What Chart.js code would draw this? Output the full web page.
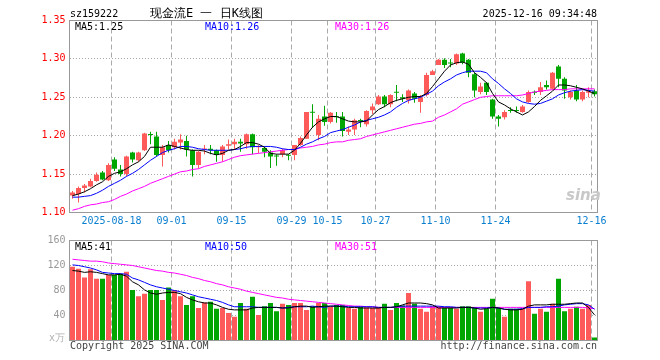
<!DOCTYPE html>
<html>
<head>
<meta charset="utf-8">
<script src="https://cdn.jsdelivr.net/npm/chart.js@4.4.0/dist/chart.umd.min.js"></script>
<style>
  html, body { margin: 0; padding: 0; background: #fff; }
  #wrap { position: relative; width: 660px; height: 360px; overflow: hidden;
          font-family: "DejaVu Sans Mono", monospace; font-size: 10px; }
  #wrap canvas { position: absolute; left: 0; }
  .t { position: absolute; white-space: pre; line-height: 12px; }
</style>
</head>
<body>
<div id="wrap">
  <canvas id="kline" width="660" height="235" style="top:0"></canvas>
  <canvas id="vol" width="660" height="130" style="top:230px"></canvas>

  <div class="t" style="left:70px;top:8px;color:#000">sz159222</div>
  <div class="t" style="left:150px;top:6px;font-size:12px;line-height:14px;color:#000">现金流E 一 日K线图</div>
  <div class="t" style="right:63px;top:8px;color:#000">2025-12-16 09:34:48</div>

  <div class="t" style="left:75px;top:21px;color:#000">MA5:1.25</div>
  <div class="t" style="left:205px;top:21px;color:#0000ff">MA10:1.26</div>
  <div class="t" style="left:335px;top:21px;color:#ff00ff">MA30:1.26</div>

  <div class="t" style="left:75px;top:241px;color:#000">MA5:41</div>
  <div class="t" style="left:205px;top:241px;color:#0000ff">MA10:50</div>
  <div class="t" style="left:335px;top:241px;color:#ff00ff">MA30:51</div>

  <div class="t" style="left:49px;top:332px;color:#b0b0b0">x万</div>
  <div class="t" style="left:70px;top:340px;color:#444">Copyright 2025 SINA.COM</div>
  <div class="t" style="right:63px;top:340px;color:#444">http://finance.sina.com.cn</div>
  <div class="t" style="left:566px;top:186px;font:italic bold 15px 'DejaVu Sans';color:#c8c8c8">sina</div>
</div>

<script>
// trading days shown on the chart
const dates = [
  '2025-08-07','2025-08-08','2025-08-11','2025-08-12','2025-08-13','2025-08-14','2025-08-15',
  '2025-08-18','2025-08-19','2025-08-20','2025-08-21','2025-08-22',
  '2025-08-25','2025-08-26','2025-08-27','2025-08-28','2025-08-29',
  '2025-09-01','2025-09-02','2025-09-03','2025-09-04','2025-09-05',
  '2025-09-08','2025-09-09','2025-09-10','2025-09-11','2025-09-12',
  '2025-09-15','2025-09-16','2025-09-17','2025-09-18','2025-09-19',
  '2025-09-22','2025-09-23','2025-09-24','2025-09-25','2025-09-26',
  '2025-09-29','2025-09-30','2025-10-09','2025-10-10',
  '2025-10-13','2025-10-14','2025-10-15','2025-10-16','2025-10-17',
  '2025-10-20','2025-10-21','2025-10-22','2025-10-23','2025-10-24',
  '2025-10-27','2025-10-28','2025-10-29','2025-10-30','2025-10-31',
  '2025-11-03','2025-11-04','2025-11-05','2025-11-06','2025-11-07',
  '2025-11-10','2025-11-11','2025-11-12','2025-11-13','2025-11-14',
  '2025-11-17','2025-11-18','2025-11-19','2025-11-20','2025-11-21',
  '2025-11-24','2025-11-25','2025-11-26','2025-11-27','2025-11-28',
  '2025-12-01','2025-12-02','2025-12-03','2025-12-04','2025-12-05',
  '2025-12-08','2025-12-09','2025-12-10','2025-12-11','2025-12-12',
  '2025-12-15','2025-12-16'
];

// labelled dates on the x axis
const tickDates = ['2025-08-18','2025-09-01','2025-09-15','2025-09-29','2025-10-15','2025-10-27','2025-11-10','2025-11-24','2025-12-16'];
const tickTexts = ['2025-08-18','09-01','09-15','09-29','10-15','10-27','11-10','11-24','12-16'];

const open = [
  1.122,1.124,1.132,1.134,1.141,1.152,1.142,1.169,1.156,1.150,
  1.178,1.168,1.181,1.202,1.199,1.175,1.188,1.185,1.191,1.193,
  1.181,1.162,1.182,1.183,1.181,1.175,1.187,1.189,1.192,1.189,
  1.202,1.185,1.184,1.178,1.174,1.176,1.175,1.175,1.188,1.196,
  1.231,1.201,1.225,1.218,1.225,1.225,1.205,1.208,1.220,1.215,
  1.233,1.241,1.251,1.241,1.257,1.250,1.246,1.255,1.244,1.253,
  1.279,1.292,1.299,1.295,1.294,1.307,1.299,1.280,1.257,1.269,
  1.247,1.225,1.224,1.233,1.233,1.231,1.244,1.257,1.257,1.266,
  1.261,1.290,1.274,1.250,1.259,1.247,1.256,1.258
];
const close = [
  1.126,1.132,1.135,1.141,1.149,1.143,1.162,1.157,1.150,1.173,
  1.169,1.178,1.203,1.201,1.175,1.185,1.181,1.192,1.195,1.182,
  1.162,1.179,1.183,1.181,1.175,1.186,1.189,1.192,1.190,1.202,
  1.185,1.186,1.179,1.173,1.173,1.181,1.174,1.188,1.197,1.231,
  1.230,1.222,1.218,1.230,1.224,1.206,1.208,1.220,1.219,1.232,
  1.238,1.251,1.241,1.253,1.256,1.248,1.259,1.248,1.250,1.279,
  1.284,1.299,1.292,1.294,1.306,1.295,1.282,1.259,1.264,1.257,
  1.225,1.222,1.231,1.232,1.232,1.238,1.257,1.256,1.263,1.263,
  1.282,1.274,1.259,1.257,1.247,1.257,1.258,1.254
];
const high = [
  1.128,1.134,1.137,1.144,1.152,1.154,1.164,1.172,1.162,1.174,
  1.179,1.179,1.204,1.205,1.205,1.188,1.193,1.196,1.202,1.200,
  1.182,1.180,1.188,1.188,1.182,1.188,1.195,1.196,1.196,1.203,
  1.203,1.188,1.186,1.181,1.176,1.183,1.176,1.188,1.199,1.231,
  1.241,1.227,1.239,1.231,1.231,1.231,1.212,1.222,1.222,1.233,
  1.242,1.253,1.253,1.254,1.266,1.254,1.260,1.257,1.253,1.282,
  1.286,1.300,1.301,1.300,1.307,1.308,1.300,1.282,1.269,1.270,
  1.248,1.227,1.233,1.237,1.238,1.240,1.259,1.259,1.270,1.272,
  1.283,1.292,1.276,1.259,1.266,1.259,1.263,1.260
];
const low = [
  1.118,1.113,1.126,1.133,1.140,1.142,1.141,1.154,1.147,1.147,
  1.165,1.166,1.180,1.189,1.173,1.160,1.178,1.182,1.182,1.173,
  1.147,1.157,1.176,1.176,1.166,1.166,1.182,1.182,1.179,1.183,
  1.176,1.177,1.172,1.158,1.161,1.172,1.168,1.168,1.187,1.196,
  1.210,1.194,1.213,1.216,1.217,1.199,1.201,1.201,1.211,1.212,
  1.228,1.240,1.237,1.237,1.245,1.244,1.242,1.243,1.230,1.251,
  1.279,1.292,1.288,1.289,1.292,1.293,1.276,1.250,1.254,1.253,
  1.222,1.212,1.221,1.230,1.230,1.230,1.243,1.253,1.253,1.260,
  1.260,1.263,1.248,1.247,1.245,1.245,1.250,1.251
];
const ma5 = [
  1.122,1.124,1.127,1.131,1.136,1.140,1.147,1.151,1.153,1.157,
  1.162,1.166,1.173,1.185,1.185,1.185,1.188,1.186,1.184,1.182,
  1.181,1.181,1.180,1.177,1.175,1.177,1.181,1.182,1.186,1.191,
  1.191,1.189,1.185,1.177,1.176,1.176,1.176,1.181,1.190,1.201,
  1.211,1.218,1.222,1.225,1.225,1.222,1.219,1.218,1.218,1.219,
  1.227,1.234,1.238,1.243,1.246,1.248,1.250,1.251,1.251,1.255,
  1.264,1.274,1.284,1.292,1.295,1.296,1.293,1.282,1.276,1.269,
  1.255,1.244,1.240,1.235,1.231,1.227,1.231,1.238,1.246,1.252,
  1.258,1.266,1.266,1.265,1.263,1.261,1.258,1.255
];
const ma10 = [
  1.120,1.120,1.121,1.122,1.125,1.129,1.134,1.138,1.142,1.147,
  1.151,1.156,1.162,1.168,1.173,1.178,1.181,1.183,1.186,1.186,
  1.185,1.183,1.182,1.181,1.181,1.181,1.181,1.182,1.183,1.185,
  1.186,1.186,1.186,1.186,1.185,1.183,1.182,1.182,1.185,1.189,
  1.192,1.196,1.199,1.204,1.206,1.208,1.211,1.214,1.218,1.220,
  1.222,1.224,1.227,1.231,1.237,1.242,1.246,1.248,1.250,1.254,
  1.258,1.265,1.270,1.274,1.279,1.282,1.284,1.284,1.284,1.282,
  1.274,1.268,1.261,1.255,1.248,1.244,1.242,1.241,1.242,1.245,
  1.248,1.253,1.256,1.258,1.259,1.260,1.259,1.258
];
const ma30 = [
  1.103,1.105,1.108,1.110,1.111,1.113,1.114,1.117,1.121,1.124,
  1.128,1.131,1.134,1.138,1.141,1.144,1.147,1.150,1.153,1.154,
  1.156,1.157,1.160,1.162,1.164,1.166,1.169,1.172,1.174,1.175,
  1.176,1.177,1.178,1.179,1.180,1.181,1.182,1.182,1.184,1.185,
  1.186,1.188,1.189,1.191,1.192,1.192,1.194,1.195,1.196,1.199,
  1.201,1.203,1.205,1.207,1.209,1.211,1.213,1.215,1.216,1.218,
  1.219,1.224,1.227,1.231,1.235,1.241,1.244,1.247,1.250,1.251,
  1.252,1.252,1.252,1.252,1.252,1.253,1.255,1.257,1.258,1.259,
  1.260,1.260,1.260,1.261,1.261,1.261,1.261,1.261
];

// volume in 万
const volume = [
  118,115,101,114,99,99,105,105,107,110,
  81,71,75,81,81,65,85,81,71,57,
  71,52,61,62,51,52,44,38,60,51,
  70,41,55,60,47,59,57,60,60,49,
  55,60,60,54,57,57,52,51,54,53,
  52,53,59,49,60,56,76,59,51,46,
  55,55,53,53,51,55,55,53,46,51,
  67,53,38,51,51,51,95,43,51,46,
  59,99,47,51,54,51,57,5
];
const vma5 = [
  112,111,109,110,109,107,105,105,106,103,
  94,89,81,76,74,76,77,77,75,69,
  65,62,60,60,57,53,50,49,49,49,
  52,53,53,53,53,52,52,54,55,55,
  53,54,55,55,55,54,53,53,52,52,
  52,52,53,53,54,57,60,60,60,59,
  57,52,52,52,52,53,53,52,50,51,
  53,52,50,49,49,50,55,57,57,57,
  58,58,58,59,60,60,53,41
];
const vma10 = [
  121,120,118,116,113,109,108,107,107,106,
  100,97,93,89,86,84,82,80,78,76,
  73,70,68,66,64,61,57,54,54,54,
  54,53,53,53,53,52,53,54,54,54,
  55,54,53,55,55,55,54,54,54,54,
  54,53,53,53,54,55,55,55,55,55,
  55,55,54,54,53,53,53,52,52,52,
  53,52,50,50,50,51,53,53,53,54,
  54,55,57,58,59,59,57,50
];
const vma30 = [
  130,129,128,127,127,126,124,123,122,121,
  120,118,116,114,112,111,109,108,106,104,
  101,99,96,94,91,89,86,84,82,79,
  77,75,73,71,69,68,66,65,64,63,
  62,61,60,59,58,57,56,55,55,54,
  54,53,53,53,53,53,53,53,53,53,
  53,53,53,53,53,53,53,53,53,53,
  53,53,53,53,53,53,53,53,53,53,
  53,53,53,53,53,53,52,51
];

const RED = '#ff5a5a';
const GREEN = '#00a600';
const GRID = '#aaaaaa';
const candleColor = close.map((c, i) => (c >= open[i] ? RED : GREEN));

Chart.defaults.font.family = '"DejaVu Sans Mono", monospace';
Chart.defaults.font.size = 10;
Chart.defaults.animation = false;

// grey box round the plot area
const frame = {
  id: 'frame',
  afterDraw(chart) {
    const { ctx, chartArea: a } = chart;
    ctx.save();
    ctx.strokeStyle = '#999';
    ctx.lineWidth = 1;
    ctx.strokeRect(a.left, a.top, a.right - a.left, a.bottom - a.top);
    ctx.restore();
  }
};

function xScale(showLabels, height) {
  return {
    type: 'category',
    offset: true,
    afterFit: s => { s.height = height; },
    grid: {
      offset: true,
      drawTicks: false,
      color: c => (tickDates.includes(dates[c.index]) ? GRID : 'transparent')
    },
    border: { display: false, dash: [5, 3] },
    ticks: {
      display: showLabels,
      autoSkip: false,
      maxRotation: 0,
      padding: 3,
      labelOffset: -3,
      color: '#0a7fd0',
      callback: (v, i) => {
        const k = tickDates.indexOf(dates[i]);
        return k < 0 ? '' : tickTexts[k];
      }
    }
  };
}

function line(data, color) {
  return { type: 'line', data, borderColor: color, borderWidth: 1, pointRadius: 0, fill: false, order: 0 };
}

function bars(data, colors, width, order) {
  return {
    type: 'bar', data, backgroundColor: colors, borderWidth: 0, inflateAmount: 0,
    barThickness: width, grouped: false, minBarLength: 1, order
  };
}

new Chart(document.getElementById('kline'), {
  type: 'bar',
  data: {
    labels: dates,
    datasets: [
      line(ma5, '#000000'),
      line(ma10, '#0000ff'),
      line(ma30, '#ff00ff'),
      bars(open.map((o, i) => [o, close[i]]), candleColor, 5, 2),
      bars(low.map((l, i) => [l, high[i]]), candleColor, 1, 3)
    ]
  },
  options: {
    responsive: false,
    layout: { padding: { top: 20.5, right: 62.5, bottom: 0, left: 0 } },
    plugins: { legend: { display: false }, tooltip: { enabled: false } },
    scales: {
      x: xScale(true, 22.5),
      y: {
        min: 1.10,
        max: 1.35,
        afterFit: s => { s.width = 69.5; },
        grid: {
          drawTicks: false,
          color: c => (c.tick && c.tick.value > 1.101 && c.tick.value < 1.349 ? GRID : 'transparent')
        },
        border: { display: false, dash: [1, 2] },
        ticks: { stepSize: 0.05, padding: 4, color: '#ff0000', callback: v => v.toFixed(2) }
      }
    }
  },
  plugins: [frame]
});

new Chart(document.getElementById('vol'), {
  type: 'bar',
  data: {
    labels: dates,
    datasets: [
      line(vma5, '#000000'),
      line(vma10, '#0000ff'),
      line(vma30, '#ff00ff'),
      bars(volume, candleColor, 5, 2)
    ]
  },
  options: {
    responsive: false,
    layout: { padding: { top: 10.5, right: 62.5, bottom: 19.5, left: 0 } },
    plugins: { legend: { display: false }, tooltip: { enabled: false } },
    scales: {
      x: xScale(false, 0),
      y: {
        min: 0,
        max: 160,
        afterFit: s => { s.width = 69.5; },
        grid: {
          drawTicks: false,
          color: c => (c.tick && c.tick.value > 0 && c.tick.value < 160 ? GRID : 'transparent')
        },
        border: { display: false, dash: [1, 2] },
        ticks: { stepSize: 40, padding: 4, color: '#999999', callback: v => (v === 0 ? '' : v) }
      }
    }
  },
  plugins: [frame]
});
</script>
</body>
</html>
